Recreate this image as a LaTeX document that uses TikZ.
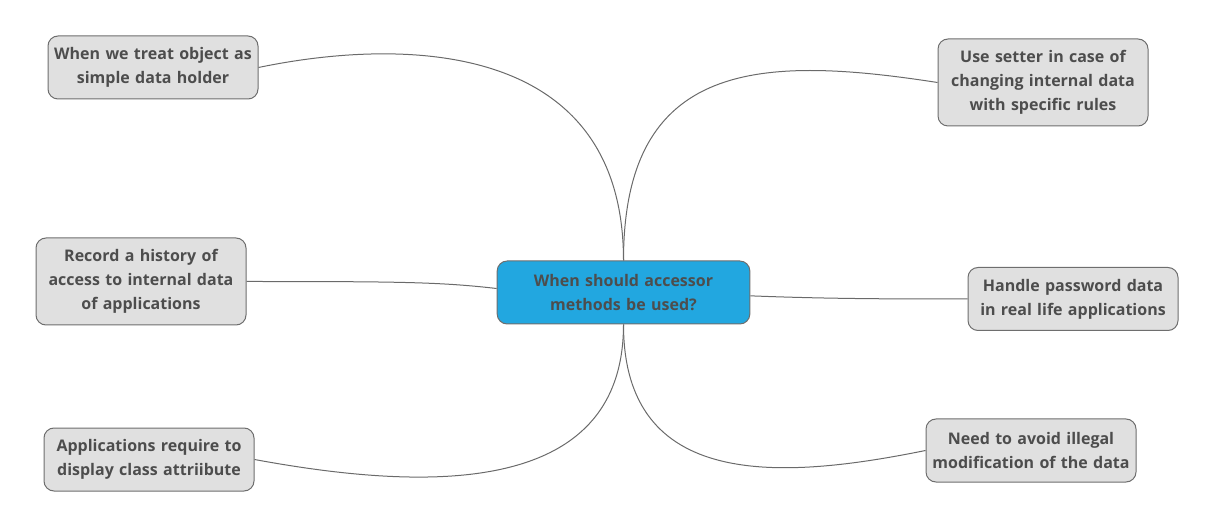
\documentclass[tikz,border=0pt]{standalone}
\usepackage{fontspec}
\setmainfont{Open Sans}
\usepackage{xcolor}
\usepackage{tikz}
\definecolor{boxfill}{HTML}{E0E0E0}
\definecolor{boxline}{HTML}{6E6E6E}
\definecolor{rootfill}{HTML}{22A7E0}
\definecolor{txt}{HTML}{4D4D4D}
\definecolor{wire}{HTML}{6A6A6A}
\tikzset{
  topic/.style={draw=boxline,line width=0.75pt,fill=boxfill,rounded corners=7.5pt,
    text width=152pt,inner xsep=2.75pt,inner ysep=0pt,align=center,minimum height=47.25pt,
    font=\bfseries\fontsize{12}{18}\selectfont,text=txt},
  root/.style={topic,fill=rootfill,text width=184pt},
  link/.style={draw=wire,line width=0.75pt}
}
\begin{document}
\begin{tikzpicture}[x=0.75pt,y=-0.75pt]
\useasboundingbox(0,0)rectangle(1216,530);
\node[root](c)at(623.5,292.5){When should accessor\\methods be used?};
\node[topic](tl)at(153,67.5){When we treat object as\\simple data holder};
\node[topic,minimum height=65.25pt](ml)at(141,281.5){Record a history of\\access to internal data\\of applications};
\node[topic](bl)at(149,459.5){Applications require to\\display class attriibute};
\node[topic,minimum height=65.25pt](tr)at(1043,82.5){Use setter in case of\\changing internal data\\with specific rules};
\node[topic](mr)at(1073,299){Handle password data\\in real life applications};
\node[topic](br)at(1031,450.5){Need to avoid illegal\\modification of the data};
% branches
\draw[link](c.north)..controls(623.5,38)and(400,38)..(tl.east);
\draw[link](c.north)..controls(623.5,60)and(760,55)..(tr.west);
\draw[link](c.south)..controls(623.5,500)and(420,490)..(bl.east);
\draw[link](c.south)..controls(623.5,490)and(780,480)..(br.west);
\draw[link]([yshift=3pt]c.west)..controls(440,282)and(400,281.5)..(ml.east);
\draw[link]([yshift=-2.5pt]c.east)..controls(830,299)and(900,299)..(mr.west);
\end{tikzpicture}
\end{document}
